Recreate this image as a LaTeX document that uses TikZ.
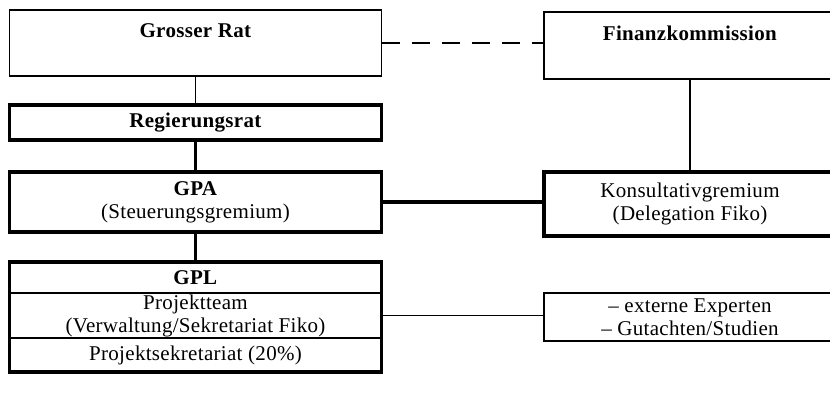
\documentclass[tikz,border=0pt]{standalone}
\usepackage{fontspec}
\setmainfont{Liberation Serif}[LetterSpace=1.5]
\usepackage{tikz}
\usetikzlibrary{positioning}

\begin{document}
\begin{tikzpicture}[
    x=1pt, y=1pt,
    node distance=0pt,
    every node/.style={
        align=center,
        font=\fontsize{21}{23}\selectfont,
        inner sep=0pt,
        outer sep=0pt
    },
    box/.style={draw, line width=1.2pt, minimum width=372pt},
    thickbox/.style={box, line width=3.6pt},
    rightbox/.style={box, minimum width=292pt},
    gplpart/.style={box, minimum width=372pt},
    link/.style={line width=1.2pt},
    thicklink/.style={line width=3.6pt},
    dashlink/.style={link, dash pattern=on 18pt off 12pt}
]
\useasboundingbox (0,0) rectangle (830,-405);

% left column
\node (rat) [box, anchor=north, text height=27pt, text depth=39pt] at (195.5,-10) {\textbf{Grosser Rat}};
\node (reg) [thickbox, minimum height=35pt] at (195.5,-122.5) {\textbf{Regierungsrat}};
\node (gpa) [thickbox, minimum height=60pt] at (195.5,-202) {\textbf{GPA}\\(Steuerungsgremium)};
\node (gpl) [gplpart, minimum height=31pt] at (195.5,-277.5) {\textbf{GPL}};
\node (team) [gplpart, minimum height=45pt, below=of gpl] {Projektteam\\(Verwaltung/Sekretariat Fiko)};
\node (sekr) [gplpart, minimum height=34pt, below=of team] {Projektsekretariat (20\%)};
\draw[thicklink] (gpl.north west) rectangle (sekr.south east);

% right column
\node (fin) [rightbox, anchor=north, text height=28pt, text depth=39pt] at (690,-12) {\textbf{Finanzkommission}};
\node (kons) [rightbox, line width=3.6pt, minimum height=64pt] at (690,-204) {Konsultativgremium\\(Delegation Fiko)};
\node (ext) [rightbox, minimum height=48pt] at (690,-317) {-- externe Experten\\-- Gutachten/Studien};

% connections
\draw[link] (rat) -- (reg);
\draw[thicklink] (reg) -- (gpa);
\draw[thicklink] (gpa) -- (gpl);
\draw[dashlink] (rat.east) -- (rat.east -| fin.west);
\draw[link] (fin) -- (kons);
\draw[thicklink] (gpa.east) -- (gpa.east -| kons.west);
\draw[link] (team.east) -- (team.east -| ext.west);

\end{tikzpicture}
\end{document}
